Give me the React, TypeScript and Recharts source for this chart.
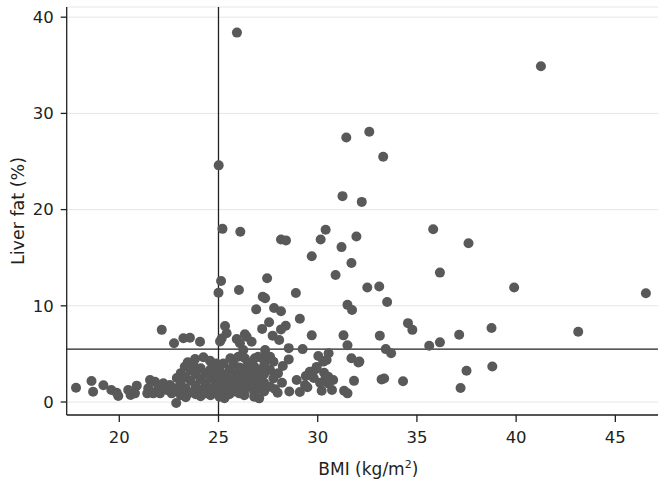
import React from 'react';
import { ScatterChart, Scatter, XAxis, YAxis, CartesianGrid, ReferenceLine } from 'recharts';

// Lean group (BMI < ~23)
const leanBmi = [17.82, 18.6, 18.68, 19.2, 19.6, 19.87, 19.95, 20.45, 20.57, 20.88, 20.79, 21.55, 21.8, 21.46, 21.41, 21.71, 21.96, 22.05, 22.22, 22.39, 22.55, 22.64, 22.8, 22.87, 22.14, 22.76];
const leanFat = [1.49, 2.18, 1.07, 1.74, 1.25, 0.97, 0.62, 1.25, 0.73, 1.7, 0.9, 2.29, 2.11, 1.42, 0.9, 0.9, 1.42, 0.9, 1.94, 1.25, 1.77, 0.9, 1.42, -0.1, 7.5, 6.1];

// Normal-weight group (23 – 25)
const normalBmi = [23.23, 23.56, 24.07, 23.45, 23.82, 24.24, 24.57, 24.9, 23.3, 23.73,
  22.9, 22.9, 23.1, 23.1, 23.1, 23.35, 23.35, 23.35, 23.6, 23.6, 23.6, 23.85, 23.85, 23.85,
  24.1, 24.1, 24.1, 24.1, 24.35, 24.35, 24.35, 24.6, 24.6, 24.6, 24.6, 24.85, 24.85, 24.85];
const normalFat = [6.62, 6.68, 6.27, 4.13, 4.47, 4.65, 4.3, 4.0, 3.67, 3.85,
  2.5, 1.1, 3.0, 1.9, 0.7, 2.6, 1.4, 0.5, 3.3, 2.2, 1.0, 2.9, 1.7, 0.8,
  3.5, 2.4, 1.3, 0.6, 3.0, 1.9, 0.9, 3.4, 2.5, 1.4, 0.7, 2.9, 1.9, 1.0];

// Overweight group (25 – 30)
const overBmi = [25.93, 25.01, 25.2, 26.1, 28.15, 28.4, 29.7, 27.45, 28.9, 27.8, 28.15, 27.55, 29.1, 28.15, 28.39,
  27.73, 28.06, 29.7, 28.54, 29.24, 25.13, 25.0, 26.03, 27.23, 27.35, 26.9, 25.33, 27.2, 25.41, 25.16,
  25.08, 25.92, 26.08, 26.25, 26.33, 26.42, 26.67, 27.35, 25.24, 25.6, 25.75, 26.0, 26.33, 26.58, 26.42,
  26.83, 27.0, 27.2, 27.35, 27.6, 27.77, 28.24, 27.6, 28.0, 27.77, 28.2, 27.6, 27.85, 27.98, 28.54,
  28.57, 29.1, 29.4, 29.6, 29.7, 29.9, 29.8, 29.36, 29.48, 29.95, 28.94,
  25.05, 25.05, 25.05, 25.05, 25.3, 25.3, 25.3, 25.3, 25.55, 25.55, 25.55, 25.55, 25.8, 25.8, 25.8,
  26.05, 26.05, 26.05, 26.05, 26.3, 26.3, 26.3, 26.3, 26.55, 26.55, 26.55, 26.8, 26.8, 26.8, 26.8, 26.8,
  27.05, 27.05, 27.05, 27.05, 27.3, 27.3, 27.3, 27.3];
const overFat = [38.4, 24.6, 18.0, 17.7, 16.9, 16.8, 15.15, 12.86, 11.33, 9.77, 9.43, 8.3, 8.66, 7.55, 7.93,
  6.9, 6.45, 6.93, 5.6, 5.5, 12.58, 11.36, 11.64, 10.95, 10.78, 9.63, 7.9, 7.6, 7.14, 6.6,
  6.3, 6.55, 6.1, 5.4, 7.04, 6.79, 6.27, 5.4, 4.0, 4.54, 4.0, 4.7, 4.54, 4.0, 3.67,
  4.54, 4.71, 4.54, 4.19, 4.7, 4.19, 3.74, 3.33, 2.98, 2.46, 2.0, 1.59, 1.32, 0.97, 4.43,
  1.1, 1.04, 2.7, 3.15, 2.8, 3.4, 2.5, 1.77, 1.53, 3.65, 2.29,
  3.3, 2.4, 1.5, 0.55, 2.8, 1.9, 1.1, 0.4, 3.4, 2.4, 1.5, 0.8, 3.0, 2.0, 1.1,
  3.6, 2.6, 1.6, 0.9, 3.1, 2.1, 1.2, 0.7, 3.3, 2.5, 1.6, 3.7, 2.8, 1.9, 1.0, 0.55,
  3.3, 2.4, 1.4, 0.38, 3.8, 2.9, 2.0, 1.1];

// Obese group (30+)
const obeseBmi = [41.25, 31.44, 32.6, 33.3, 31.25, 32.22, 30.4, 31.95, 30.15, 31.2, 31.7, 30.9, 32.5, 33.1, 33.5,
  35.82, 37.6, 36.16, 39.9, 46.54, 34.55, 34.77, 33.13, 37.13, 38.76, 43.13, 35.62, 36.16, 33.43, 33.7,
  32.1, 33.22, 33.35, 34.3, 37.5, 38.8, 37.2, 31.5, 31.73, 31.3, 31.5, 30.03, 30.55, 30.45, 30.28,
  31.7, 32.05, 30.12, 30.37, 30.32, 30.53, 30.78, 30.53, 30.72, 30.2, 31.83, 31.33, 31.5];
const obeseFat = [34.9, 27.5, 28.1, 25.5, 21.4, 20.8, 17.9, 17.2, 16.9, 16.1, 14.45, 13.2, 11.9, 12.0, 10.4,
  17.95, 16.5, 13.45, 11.9, 11.3, 8.2, 7.5, 6.9, 7.0, 7.7, 7.3, 5.85, 6.2, 5.5, 5.06,
  4.2, 2.35, 2.45, 2.15, 3.25, 3.7, 1.45, 10.1, 9.56, 6.93, 5.9, 4.78, 5.06, 4.37, 4.2,
  4.54, 4.12, 2.0, 2.29, 3.05, 2.63, 2.29, 1.94, 1.25, 1.17, 2.2, 1.17, 0.9];

const xTicks = [20, 25, 30, 35, 40, 45];
const yTicks = [0, 10, 20, 30, 40];
const bmiCutoff = 25;
const fatCutoff = 5.5;

const toPoints = (xs: number[], ys: number[]) => xs.map((x, i) => ({ bmi: x, fat: ys[i] }));
const points = [
  ...toPoints(leanBmi, leanFat),
  ...toPoints(normalBmi, normalFat),
  ...toPoints(overBmi, overFat),
  ...toPoints(obeseBmi, obeseFat),
];

const FONT = "'DejaVu Sans', sans-serif";
const TEXT = '#231f20';

const Dot = (props: any) => <circle cx={props.cx} cy={props.cy} r={5} fill="#595959" />;

const XLabel = (props: any) => {
  const vb = props.viewBox || { x: 0, y: 0, width: 0 };
  const cx = vb.x + vb.width / 2 + 6;
  return (
    <text x={cx} y={vb.y + 60} textAnchor="middle" fontFamily={FONT} fontSize={17} fill={TEXT}>
      BMI (kg/m<tspan dy={-7} fontSize={11}>2</tspan><tspan dy={7}>)</tspan>
    </text>
  );
};

const YLabel = (props: any) => {
  const vb = props.viewBox || { x: 0, y: 0, height: 0 };
  const cy = vb.y + vb.height / 2;
  const x = 24;
  return (
    <text x={x} y={cy} transform={`rotate(-90, ${x}, ${cy})`} textAnchor="middle" fontFamily={FONT} fontSize={17.5} fill={TEXT}>
      Liver fat (%)
    </text>
  );
};

export default function App() {
  return (
    <div style={{ position: 'absolute', left: 0, top: 0, width: 661, height: 486, background: '#fff' }}>
      <ScatterChart width={661} height={486} margin={{ top: 7, right: 3, left: 0, bottom: 0 }}>
        <CartesianGrid horizontal vertical={false} stroke="#e6e6e6" strokeWidth={1} />
        <XAxis
          type="number"
          dataKey="bmi"
          domain={[17.35, 47.15]}
          ticks={xTicks}
          allowDataOverflow
          height={71}
          tickSize={7}
          tickMargin={9}
          axisLine={{ stroke: '#231f20', strokeWidth: 1.3 }}
          tickLine={{ stroke: '#231f20', strokeWidth: 1.3 }}
          tick={{ fontFamily: FONT, fontSize: 16.5, fill: TEXT }}
          label={<XLabel />}
        />
        <YAxis
          type="number"
          dataKey="fat"
          domain={[-1.35, 41.06]}
          ticks={yTicks}
          allowDataOverflow
          width={66.7}
          tickSize={6}
          tickMargin={7}
          axisLine={{ stroke: '#231f20', strokeWidth: 1.3 }}
          tickLine={{ stroke: '#231f20', strokeWidth: 1.3 }}
          tick={{ fontFamily: FONT, fontSize: 16.5, fill: TEXT }}
          label={<YLabel />}
        />
        <Scatter data={points} shape={<Dot />} isAnimationActive={false} />
        <ReferenceLine x={bmiCutoff} stroke="#231f20" strokeWidth={1.3} />
        <ReferenceLine y={fatCutoff} stroke="#231f20" strokeWidth={1.3} />
      </ScatterChart>
    </div>
  );
}
